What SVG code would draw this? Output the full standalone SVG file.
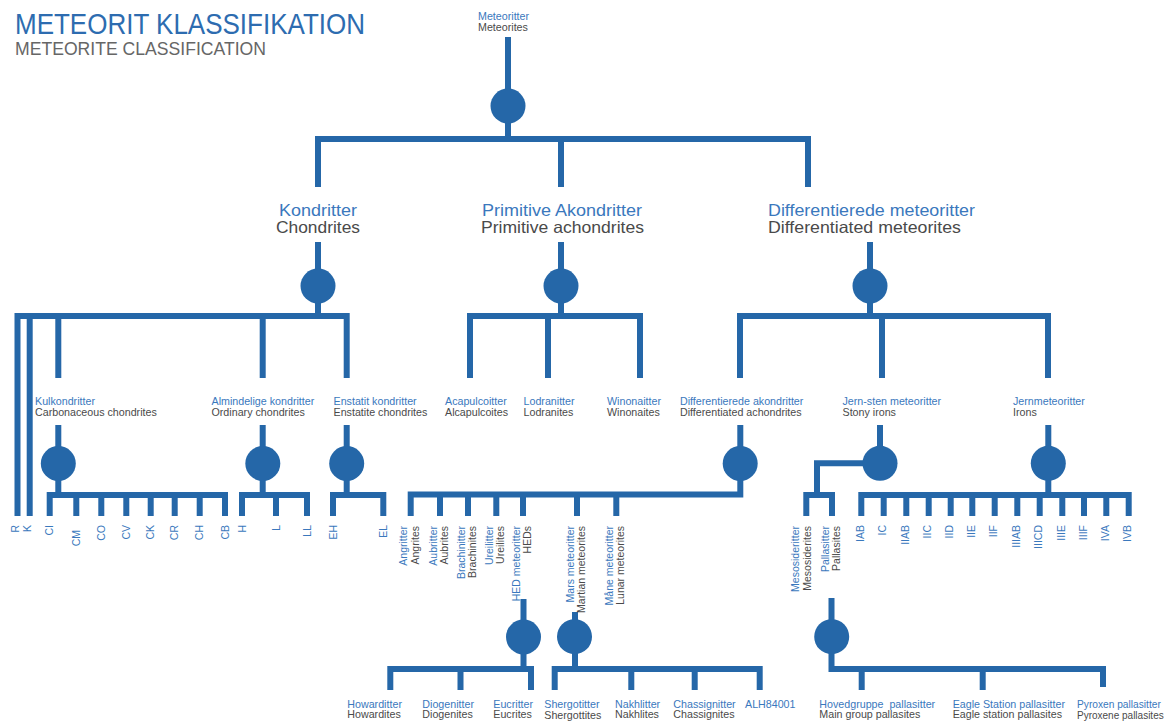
<svg xmlns="http://www.w3.org/2000/svg" width="1168" height="721" viewBox="0 0 1168 721">
<style>
text{font-family:"Liberation Sans",Arial,sans-serif}
.ln{fill:none;stroke:#2567a8;stroke-width:6;stroke-linejoin:miter;stroke-linecap:butt}
.dot{fill:#2567a8}
.b{fill:#3a78bd}
.g{fill:#4a4a4a}
.s{font-size:10.7px}
.m{font-size:16.5px}
.r{font-size:10.5px;text-anchor:end}
</style>
<rect width="1168" height="721" fill="#ffffff"/>
<g id="title">
<text x="15" y="34" font-size="29" fill="#2d6cb0" textLength="350" lengthAdjust="spacingAndGlyphs">METEORIT KLASSIFIKATION</text>
<text x="15" y="55" font-size="18" fill="#666666" textLength="251" lengthAdjust="spacingAndGlyphs">METEORITE CLASSIFICATION</text>
</g>
<g id="connectors">
<path class="ln" d="M508,37 V139 M318,187 V139 H808 V187 M561,139 V187"/>
<path class="ln" d="M318,242 V316 M561,242 V316 M870,242 V316"/>
<path class="ln" d="M17.5,516 V316 H346.7 V378 M29.7,316 V516 M58.3,316 V378 M262.7,316 V378"/>
<path class="ln" d="M470,378 V316 H640 V378 M548,316 V378"/>
<path class="ln" d="M740,378 V316 H1048 V378 M882,316 V378"/>
<path class="ln" d="M58.3,425 V495 M49.7,516 V495 H225 V516 M76.3,495 V516 M101.3,495 V516 M126.3,495 V516 M150.7,495 V516 M174.7,495 V516 M199.7,495 V516"/>
<path class="ln" d="M262.7,425 V495 M242,516 V495 H307 V516 M276,495 V516"/>
<path class="ln" d="M346.7,425 V495 M333,516 V495 H383.3 V516"/>
<path class="ln" d="M740.3,425 V494.5 H410.7 V516 M440,494.5 V516 M468,494.5 V516 M496.3,494.5 V516 M523,494.5 V516 M577,494.5 V516 M616.3,494.5 V516"/>
<path class="ln" d="M880,425 V463.3 H817 V495 M806.3,516 V495 H832 V516"/>
<path class="ln" d="M1048.3,425 V495 M861.3,516 V495 H1128.7 V516 M883.7,495 V516 M906.3,495 V516 M928.7,495 V516 M950.7,495 V516 M972.3,495 V516 M994.7,495 V516 M1017.3,495 V516 M1039.7,495 V516 M1062.3,495 V516 M1084,495 V516 M1106.3,495 V516"/>
<path class="ln" d="M523.5,599 V669 M390.3,690 V669 H531 V690 M460.5,669 V690"/>
<path class="ln" d="M575,612 V669 M554.7,690 V669 H759.7 V690 M631.3,669 V690 M694.7,669 V690"/>
<path class="ln" d="M831.5,598 V669 H1103 V687 M861.7,669 V690 M982.7,669 V690"/>
<g id="junctions">
<circle class="dot" cx="508" cy="106" r="17.5"/>
<circle class="dot" cx="318" cy="286" r="17.5"/>
<circle class="dot" cx="561" cy="286" r="17.5"/>
<circle class="dot" cx="870" cy="286" r="17.5"/>
<circle class="dot" cx="58.3" cy="463.5" r="17.5"/>
<circle class="dot" cx="262.8" cy="463.5" r="17.5"/>
<circle class="dot" cx="346.7" cy="463.5" r="17.5"/>
<circle class="dot" cx="740.2" cy="463.5" r="17.5"/>
<circle class="dot" cx="880" cy="463.3" r="17.5"/>
<circle class="dot" cx="1048.3" cy="463.3" r="17.5"/>
<circle class="dot" cx="523.5" cy="637" r="17.5"/>
<circle class="dot" cx="574.5" cy="636.7" r="17.5"/>
<circle class="dot" cx="831.7" cy="636.7" r="17.5"/>
</g>
</g>
<g id="n-meteorites">
<text class="s b" x="478" y="20">Meteoritter</text>
<text class="s g" x="478" y="31">Meteorites</text>
</g>
<g id="n-chondrites">
<text class="m b" x="279" y="215.5" textLength="78" lengthAdjust="spacingAndGlyphs">Kondritter</text>
<text class="m g" x="276" y="233" textLength="84" lengthAdjust="spacingAndGlyphs">Chondrites</text>
</g>
<g id="n-primitive">
<text class="m b" x="482" y="215.5" textLength="160" lengthAdjust="spacingAndGlyphs">Primitive Akondritter</text>
<text class="m g" x="481" y="233" textLength="163" lengthAdjust="spacingAndGlyphs">Primitive achondrites</text>
</g>
<g id="n-differentiated">
<text class="m b" x="768" y="215.5" textLength="207" lengthAdjust="spacingAndGlyphs">Differentierede meteoritter</text>
<text class="m g" x="768" y="233" textLength="193" lengthAdjust="spacingAndGlyphs">Differentiated meteorites</text>
</g>
<g id="n-carbonaceous">
<text class="s b" x="35" y="404.5">Kulkondritter</text>
<text class="s g" x="35" y="415.5">Carbonaceous chondrites</text>
</g>
<g id="n-ordinary">
<text class="s b" x="211.5" y="404.5">Almindelige kondritter</text>
<text class="s g" x="211.5" y="415.5">Ordinary chondrites</text>
</g>
<g id="n-enstatite">
<text class="s b" x="333.5" y="404.5">Enstatit kondritter</text>
<text class="s g" x="333.5" y="415.5">Enstatite chondrites</text>
</g>
<g id="n-acapulcoites">
<text class="s b" x="445" y="404.5">Acapulcoitter</text>
<text class="s g" x="445" y="415.5">Alcapulcoites</text>
</g>
<g id="n-lodranites">
<text class="s b" x="523.5" y="404.5">Lodranitter</text>
<text class="s g" x="523.5" y="415.5">Lodranites</text>
</g>
<g id="n-winonaites">
<text class="s b" x="607" y="404.5">Winonaitter</text>
<text class="s g" x="607" y="415.5">Winonaites</text>
</g>
<g id="n-diff-achondrites">
<text class="s b" x="680" y="404.5">Differentierede akondritter</text>
<text class="s g" x="680" y="415.5">Differentiated achondrites</text>
</g>
<g id="n-stony-irons">
<text class="s b" x="842.5" y="404.5">Jern-sten meteoritter</text>
<text class="s g" x="842.5" y="415.5">Stony irons</text>
</g>
<g id="n-irons">
<text class="s b" x="1013" y="404.5">Jernmeteoritter</text>
<text class="s g" x="1013" y="415.5">Irons</text>
</g>
<g id="n-chondrite-leaves">
<text class="r b" transform="translate(18.5,525) rotate(-90)">R</text>
<text class="r b" transform="translate(30.5,525) rotate(-90)">K</text>
<text class="r b" transform="translate(53.2,525) rotate(-90)">CI</text>
<text class="r b" transform="translate(79.8,530) rotate(-90)">CM</text>
<text class="r b" transform="translate(104.8,525) rotate(-90)">CO</text>
<text class="r b" transform="translate(129.8,525) rotate(-90)">CV</text>
<text class="r b" transform="translate(154.2,525) rotate(-90)">CK</text>
<text class="r b" transform="translate(178.2,525) rotate(-90)">CR</text>
<text class="r b" transform="translate(203.2,525) rotate(-90)">CH</text>
<text class="r b" transform="translate(228.5,525) rotate(-90)">CB</text>
<text class="r b" transform="translate(245.5,525) rotate(-90)">H</text>
<text class="r b" transform="translate(279.5,525) rotate(-90)">L</text>
<text class="r b" transform="translate(310.5,525) rotate(-90)">LL</text>
<text class="r b" transform="translate(336.5,525) rotate(-90)">EH</text>
<text class="r b" transform="translate(386.8,525) rotate(-90)">EL</text>
</g>
<g id="n-achondrite-leaves">
<text class="r b" transform="translate(407.2,526) rotate(-90)">Angritter</text>
<text class="r g" transform="translate(418.7,526) rotate(-90)">Angrites</text>
<text class="r b" transform="translate(436.5,526) rotate(-90)">Aubritter</text>
<text class="r g" transform="translate(448,526) rotate(-90)">Aubrites</text>
<text class="r b" transform="translate(464.5,526) rotate(-90)">Brachinitter</text>
<text class="r g" transform="translate(476,526) rotate(-90)">Brachinites</text>
<text class="r b" transform="translate(492.8,526) rotate(-90)">Ureilitter</text>
<text class="r g" transform="translate(504.3,526) rotate(-90)">Ureilites</text>
<text class="r b" transform="translate(519.5,526) rotate(-90)">HED meteoritter</text>
<text class="r g" transform="translate(531,526) rotate(-90)">HEDs</text>
<text class="r b" transform="translate(573.5,526) rotate(-90)">Mars meteoritter</text>
<text class="r g" transform="translate(585,526) rotate(-90)">Martian meteorites</text>
<text class="r b" transform="translate(612.8,526) rotate(-90)">Måne meteoritter</text>
<text class="r g" transform="translate(624.3,526) rotate(-90)">Lunar meteorites</text>
</g>
<g id="n-stony-iron-leaves">
<text class="r b" transform="translate(799,526) rotate(-90)">Mesosideritter</text>
<text class="r g" transform="translate(811,526) rotate(-90)">Mesosiderites</text>
<text class="r b" transform="translate(828.5,526) rotate(-90)">Pallasitter</text>
<text class="r g" transform="translate(840,526) rotate(-90)">Pallasites</text>
</g>
<g id="n-iron-leaves">
<text class="r b" transform="translate(863.5,525) rotate(-90)">IAB</text>
<text class="r b" transform="translate(886,525) rotate(-90)">IC</text>
<text class="r b" transform="translate(908.5,525) rotate(-90)">IIAB</text>
<text class="r b" transform="translate(931,525) rotate(-90)">IIC</text>
<text class="r b" transform="translate(953,525) rotate(-90)">IID</text>
<text class="r b" transform="translate(974.5,525) rotate(-90)">IIE</text>
<text class="r b" transform="translate(997,525) rotate(-90)">IIF</text>
<text class="r b" transform="translate(1019.5,525) rotate(-90)">IIIAB</text>
<text class="r b" transform="translate(1042,525) rotate(-90)">IIICD</text>
<text class="r b" transform="translate(1064.5,525) rotate(-90)">IIIE</text>
<text class="r b" transform="translate(1086.5,525) rotate(-90)">IIIF</text>
<text class="r b" transform="translate(1108.5,525) rotate(-90)">IVA</text>
<text class="r b" transform="translate(1131,525) rotate(-90)">IVB</text>
</g>
<g id="n-hed-leaves">
<text class="s b" x="347.3" y="707.5">Howarditter</text>
<text class="s g" x="347.3" y="718.3">Howardites</text>
<text class="s b" x="422.3" y="707.5">Diogenitter</text>
<text class="s g" x="422.3" y="718.3">Diogenites</text>
<text class="s b" x="493.3" y="707.5">Eucritter</text>
<text class="s g" x="493.3" y="718.3">Eucrites</text>
</g>
<g id="n-mars-leaves">
<text class="s b" x="544.3" y="708">Shergotitter</text>
<text class="s g" x="544.3" y="718.5">Shergottites</text>
<text class="s b" x="615" y="707.5">Nakhlitter</text>
<text class="s g" x="615" y="718.3">Nakhlites</text>
<text class="s b" x="673.3" y="707.5">Chassignitter</text>
<text class="s g" x="673.3" y="718.3">Chassignites</text>
<text class="s b" x="745" y="707.5">ALH84001</text>
</g>
<g id="n-pallasite-leaves">
<text class="s b" x="819.3" y="707.5" xml:space="preserve">Hovedgruppe  pallasitter</text>
<text class="s g" x="819.3" y="718.3">Main group pallasites</text>
<text class="s b" x="952.7" y="707.5">Eagle Station pallasitter</text>
<text class="s g" x="952.7" y="718.3">Eagle station pallasites</text>
<text class="b" x="1077" y="708" font-size="10.2">Pyroxen pallasitter</text>
<text class="g" x="1077" y="718.5" font-size="10">Pyroxene pallasites</text>
</g>
</svg>
